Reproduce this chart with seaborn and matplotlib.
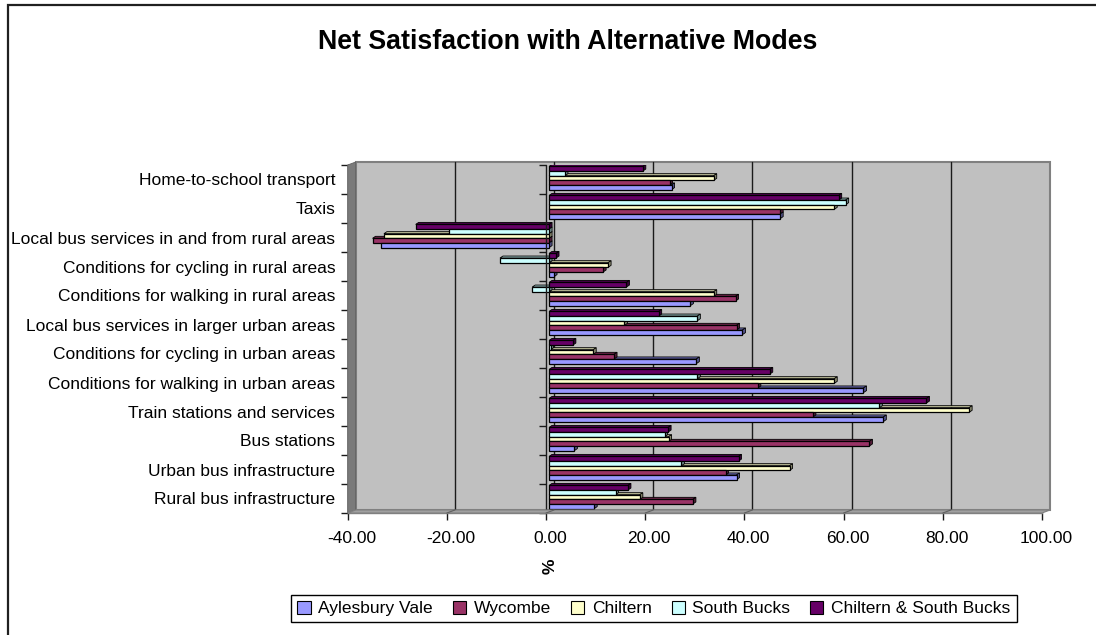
import numpy as np
import pandas as pd
import matplotlib
matplotlib.use("Agg")
import matplotlib.pyplot as plt
import seaborn as sns
from matplotlib.patches import Rectangle, Polygon, Patch
from matplotlib.lines import Line2D
from matplotlib import transforms as mtrans
import matplotlib.colors as mcolors

# ---- data -------------------------------------------------------------
categories = [
    "Home-to-school transport",
    "Taxis",
    "Local bus services in and from rural areas",
    "Conditions for cycling in rural areas",
    "Conditions for walking in rural areas",
    "Local bus services in larger urban areas",
    "Conditions for cycling in urban areas",
    "Conditions for walking in urban areas",
    "Train stations and services",
    "Bus stations",
    "Urban bus infrastructure",
    "Rural bus infrastructure",
]
series_names = ["Aylesbury Vale", "Wycombe", "Chiltern", "South Bucks",
                "Chiltern & South Bucks"]
aylesbury_vale = [24.7, 46.6, -33.9, 1.0, 28.5, 39.0, 29.7, 63.4, 67.4, 5.1, 37.8, 9.1]
wycombe = [24.3, 46.6, -35.6, 10.9, 37.6, 37.8, 13.1, 42.1, 53.2, 64.6, 35.6, 29.0]
chiltern = [33.2, 57.5, -33.3, 11.9, 33.2, 15.2, 8.9, 57.5, 84.7, 24.1, 48.5, 18.3]
south_bucks = [3.2, 59.8, -20.1, -9.9, -3.4, 29.9, 0.3, 29.9, 66.6, 23.3, 26.7, 13.4]
chiltern_south_bucks = [18.9, 58.4, -26.9, 1.4, 15.6, 22.1, 4.8, 44.5, 76.1, 24.0, 38.2, 15.9]
series_colors = ["#9999FF", "#993366", "#FFFFCC", "#CCFFFF", "#660066"]
x_ticks = [-40, -20, 0, 20, 40, 60, 80, 100]

series_values = [aylesbury_vale, wycombe, chiltern, south_bucks, chiltern_south_bucks]
df = pd.DataFrame(
    [(c, s, v) for s, vals in zip(series_names, series_values)
     for c, v in zip(categories, vals)],
    columns=["category", "region", "value"],
)
palette = dict(zip(series_names, series_colors))

# ---- figure ------------------------------------------------------------
sns.set_theme(style="white")
plt.rcParams["font.family"] = ["Liberation Sans", "DejaVu Sans"]
plt.rcParams["text.color"] = "black"

W, H, DPI = 1096, 635, 100
FS = 12.5  # axis / legend text size
fig = plt.figure(figsize=(W / DPI, H / DPI), dpi=DPI)
fig.patch.set_facecolor("white")


def px(x, y):
    """pixel position (from top-left) -> figure fraction"""
    return (x / W, 1 - y / H)


# outer chart frame
fig.add_artist(Rectangle(px(8, 640), (1100 - 8) / W, (640 - 5) / H,
                         transform=fig.transFigure, fill=False,
                         edgecolor="#202020", linewidth=1.6, clip_on=False))

# front plane of the 3-D box
L, R, T, B = 347.7, 1042.0, 165.0, 513.0
DX, DY = 8, 3  # depth of the box in pixels
ax = fig.add_axes([L / W, 1 - B / H, (R - L) / W, (B - T) / H])
ax.set_facecolor("none")

sns.barplot(data=df, y="category", x="value", hue="region",
            order=categories, hue_order=series_names[::-1],
            palette=palette, orient="h", width=0.8, saturation=1,
            errorbar=None, legend=False, edgecolor="black",
            linewidth=0.9, ax=ax, zorder=2)
bars = list(ax.patches)

ax.set_xlim(x_ticks[0], x_ticks[-1])
ax.set_ylim(len(categories) - 0.5, -0.5)

# back wall, side wall and floor
depth = mtrans.ScaledTranslation(DX / DPI, DY / DPI, fig.dpi_scale_trans)
ax.add_patch(Rectangle((0, 0), 1, 1, transform=ax.transAxes + depth,
                       facecolor="#C0C0C0", edgecolor="#808080",
                       linewidth=1.5, zorder=0, clip_on=False))
fig.add_artist(Polygon([px(L, B), px(L, T), px(L + DX, T - DY), px(L + DX, B - DY)],
                       closed=True, transform=fig.transFigure, facecolor="#7a7a7a",
                       edgecolor="#606060", linewidth=0.6, zorder=0.6))
fig.add_artist(Polygon([px(L, B), px(R, B), px(R + DX, B - DY), px(L + DX, B - DY)],
                       closed=True, transform=fig.transFigure, facecolor="#A0A0A0",
                       edgecolor="#808080", linewidth=0.8, zorder=0.6))

# gridlines on the back wall and their traces across the floor
back_x = ax.get_xaxis_transform() + depth
for xv in x_ticks[1:-1]:
    ax.add_line(Line2D([xv, xv], [0, 1], transform=back_x, color="#1a1a1a",
                       linewidth=1.0, zorder=0.5, clip_on=False))
    xp = L + (xv - x_ticks[0]) / (x_ticks[-1] - x_ticks[0]) * (R - L)
    fig.add_artist(Line2D([px(xp, B)[0], px(xp + DX, B - DY)[0]],
                          [px(xp, B)[1], px(xp + DX, B - DY)[1]],
                          transform=fig.transFigure, color="#606060",
                          linewidth=0.8, zorder=0.7))

# 3-D faces of the bars
xu = (x_ticks[-1] - x_ticks[0]) / (R - L)   # data units per pixel (x)
yu = len(categories) / (B - T)               # data units per pixel (y)
bdx, bdy = 3 * xu, -2 * yu
shift = mtrans.ScaledTranslation(3 / DPI, 1.5 / DPI, fig.dpi_scale_trans)
for p in bars:
    x0, w, y0, h = p.get_x(), p.get_width(), p.get_y(), p.get_height()
    xl, xr = min(x0, x0 + w), max(x0, x0 + w)
    yt, yb = min(y0, y0 + h), max(y0, y0 + h)
    fc = np.array(mcolors.to_rgb(p.get_facecolor()))
    top = Polygon([(xl, yt), (xr, yt), (xr + bdx, yt + bdy), (xl + bdx, yt + bdy)],
                  closed=True, facecolor=fc * 0.75, edgecolor="black",
                  linewidth=0.6, zorder=1.6, transform=ax.transData + shift)
    cap = Polygon([(xr, yt), (xr, yb), (xr + bdx, yb + bdy), (xr + bdx, yt + bdy)],
                  closed=True, facecolor=fc * 0.55, edgecolor="black",
                  linewidth=0.6, zorder=1.7, transform=ax.transData + shift)
    ax.add_patch(top)
    ax.add_patch(cap)
    p.set_transform(ax.transData + shift)

# category axis crossing at zero
ax.plot([0, 0], [-0.5, len(categories) - 0.5], color="#1a1a1a", linewidth=1.0,
        zorder=2.5, clip_on=False)
bounds = np.arange(-0.5, len(categories), 1.0)
ax.hlines(bounds, -7 * xu, 0, colors="#1a1a1a", linewidth=1.0, zorder=2.5,
          clip_on=False)

# axes styling
for side in ["top", "right"]:
    ax.spines[side].set_visible(False)
ax.spines["left"].set_color("#1a1a1a")
ax.spines["bottom"].set_color("#808080")
ax.spines["left"].set_linewidth(1.0)
ax.spines["bottom"].set_linewidth(1.0)

ax.set_xticks(x_ticks)
ax.set_xticklabels([f"{v:.2f}" for v in x_ticks])
ax.tick_params(axis="x", length=5, width=1, color="#1a1a1a", pad=8,
               labelsize=FS, labelcolor="black", bottom=True)
label_shift = mtrans.ScaledTranslation(4 / DPI, 0, fig.dpi_scale_trans)
for lab in ax.get_xticklabels():
    lab.set_transform(lab.get_transform() + label_shift)
ax.set_yticks(range(len(categories)))
ax.set_yticklabels(categories)
ax.set_yticks(bounds, minor=True)
ax.tick_params(axis="y", which="major", length=0, pad=9, labelsize=FS,
               labelcolor="black", left=True)
ax.tick_params(axis="y", which="minor", length=5, width=1, color="#1a1a1a",
               left=True)
ax.set_xlabel("")
ax.set_ylabel("")
ax.grid(False)

fig.text(*px(550, 566), "%", rotation=90, ha="center", va="center",
         fontsize=FS, fontweight="bold", color="black")
fig.text(*px(568, 42), "Net Satisfaction with Alternative Modes", ha="center",
         va="center", fontsize=19.3, fontweight="bold", color="black")

handles = [Patch(facecolor=c, edgecolor="black", linewidth=0.8, label=n)
           for n, c in zip(series_names, series_colors)]
leg = fig.legend(handles=handles, loc="center", bbox_to_anchor=px(654, 608.5),
                 ncol=5, frameon=True, fancybox=False, framealpha=1,
                 edgecolor="black", fontsize=FS, handlelength=0.75,
                 handleheight=0.75, handletextpad=0.45, columnspacing=1.15,
                 borderpad=0.35, borderaxespad=0, labelcolor="black")
leg.get_frame().set_linewidth(1.0)

fig.savefig("out.png", dpi=DPI, facecolor="white")
